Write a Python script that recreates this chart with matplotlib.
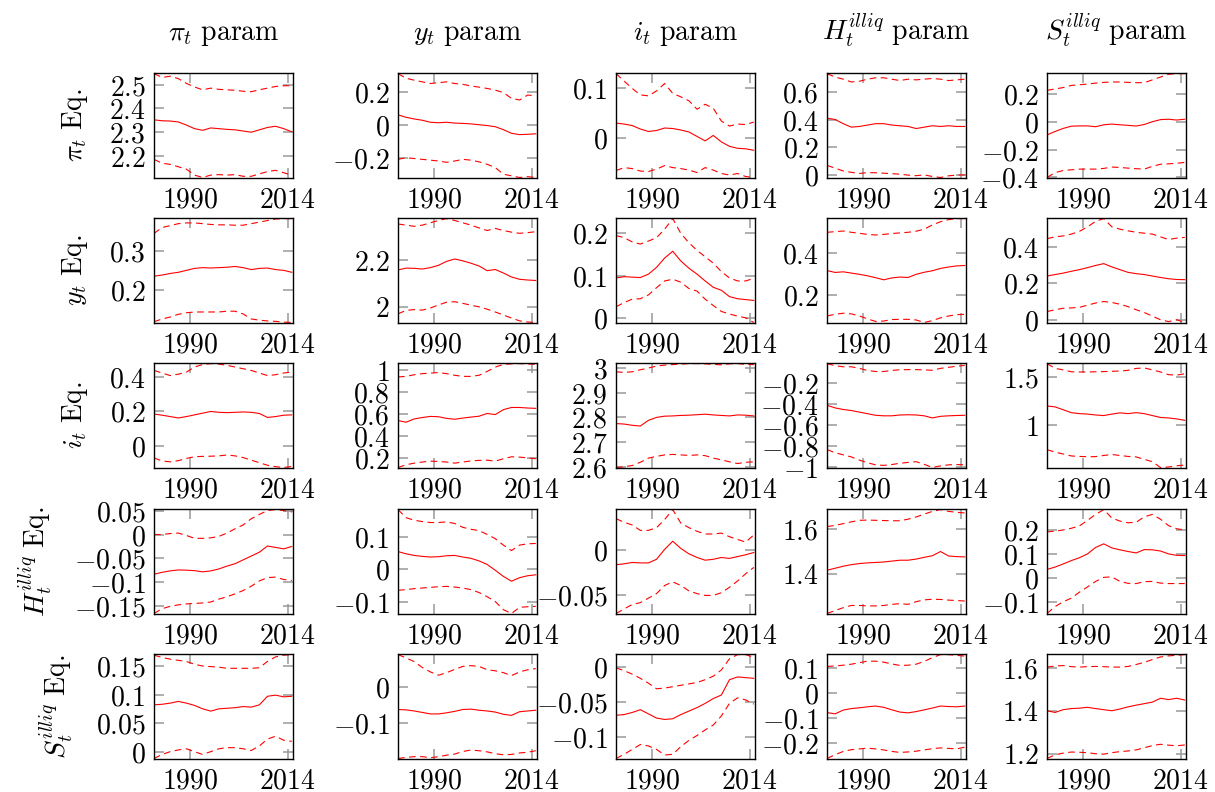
import matplotlib
matplotlib.use('Agg')
import matplotlib.pyplot as plt

plt.rcParams['mathtext.fontset'] = 'cm'
plt.rcParams['font.family'] = 'serif'
plt.rcParams['font.serif'] = ['DejaVu Serif']

# x axis: estimation end dates (every second year)
years = list(range(1981, 2016, 2))

col_names = [r'$\pi_t\ \mathrm{param}$', r'$y_t\ \mathrm{param}$', r'$i_t\ \mathrm{param}$',
             r'$H_t^{illiq}\ \mathrm{param}$', r'$S_t^{illiq}\ \mathrm{param}$']
row_names = [r'$\pi_t\ \mathrm{Eq.}$', r'$y_t\ \mathrm{Eq.}$', r'$i_t\ \mathrm{Eq.}$',
             r'$H_t^{illiq}\ \mathrm{Eq.}$', r'$S_t^{illiq}\ \mathrm{Eq.}$']
x_ticks = [1990, 2014]

# ---- pi_t equation ----
pi_pi_mid = [2.352, 2.348, 2.347, 2.343, 2.33, 2.315, 2.308, 2.318, 2.315, 2.312, 2.31, 2.305, 2.300, 2.31, 2.32, 2.325, 2.315, 2.302]
pi_pi_hi = [2.546, 2.53, 2.535, 2.525, 2.505, 2.49, 2.478, 2.485, 2.48, 2.478, 2.476, 2.472, 2.47, 2.478, 2.485, 2.492, 2.495, 2.495]
pi_pi_lo = [2.186, 2.17, 2.165, 2.155, 2.145, 2.12, 2.11, 2.12, 2.122, 2.12, 2.122, 2.115, 2.115, 2.125, 2.135, 2.14, 2.13, 2.12]

pi_y_mid = [0.06, 0.045, 0.035, 0.027, 0.015, 0.012, 0.015, 0.01, 0.008, 0.005, 0.0, -0.005, -0.012, -0.03, -0.052, -0.06, -0.058, -0.055]
pi_y_hi = [0.31, 0.282, 0.27, 0.26, 0.25, 0.255, 0.26, 0.25, 0.245, 0.235, 0.228, 0.22, 0.21, 0.195, 0.16, 0.15, 0.18, 0.175]
pi_y_lo = [-0.21, -0.2, -0.205, -0.21, -0.215, -0.22, -0.228, -0.22, -0.21, -0.215, -0.225, -0.24, -0.26, -0.3, -0.31, -0.32, -0.315, -0.32]

pi_i_mid = [0.030, 0.028, 0.025, 0.018, 0.013, 0.015, 0.02, 0.019, 0.016, 0.012, 0.003, -0.006, 0.005, -0.008, -0.017, -0.021, -0.022, -0.025]
pi_i_hi = [0.13, 0.115, 0.1, 0.087, 0.085, 0.095, 0.11, 0.09, 0.083, 0.075, 0.058, 0.068, 0.06, 0.034, 0.024, 0.028, 0.027, 0.032]
pi_i_lo = [-0.066, -0.06, -0.062, -0.067, -0.068, -0.063, -0.056, -0.06, -0.062, -0.065, -0.07, -0.06, -0.065, -0.072, -0.075, -0.072, -0.078, -0.08]

pi_h_mid = [0.41, 0.40, 0.37, 0.345, 0.35, 0.36, 0.37, 0.37, 0.36, 0.355, 0.35, 0.335, 0.345, 0.355, 0.35, 0.355, 0.35, 0.35]
pi_h_hi = [0.73, 0.705, 0.69, 0.67, 0.675, 0.69, 0.70, 0.70, 0.69, 0.68, 0.69, 0.685, 0.69, 0.695, 0.69, 0.68, 0.685, 0.69]
pi_h_lo = [0.07, 0.05, 0.03, 0.02, 0.012, 0.018, 0.017, 0.014, 0.01, 0.007, 0.0, -0.004, 0.002, -0.01, -0.017, -0.005, 0.0, 0.002]

pi_s_mid = [-0.095, -0.07, -0.048, -0.032, -0.03, -0.03, -0.036, -0.022, -0.017, -0.022, -0.026, -0.031, -0.02, 0.0, 0.015, 0.018, 0.012, 0.018]
pi_s_hi = [0.225, 0.235, 0.245, 0.26, 0.265, 0.27, 0.277, 0.282, 0.285, 0.285, 0.282, 0.28, 0.28, 0.3, 0.32, 0.34, 0.345, 0.345]
pi_s_lo = [-0.4, -0.365, -0.35, -0.345, -0.34, -0.34, -0.34, -0.335, -0.325, -0.328, -0.333, -0.337, -0.34, -0.32, -0.305, -0.302, -0.298, -0.292]

# ---- y_t equation ----
y_pi_mid = [0.235, 0.238, 0.242, 0.245, 0.25, 0.255, 0.257, 0.256, 0.257, 0.258, 0.26, 0.257, 0.252, 0.255, 0.256, 0.252, 0.25, 0.245]
y_pi_hi = [0.345, 0.36, 0.365, 0.37, 0.372, 0.372, 0.37, 0.368, 0.367, 0.367, 0.366, 0.366, 0.37, 0.374, 0.378, 0.382, 0.383, 0.383]
y_pi_lo = [0.118, 0.125, 0.13, 0.137, 0.141, 0.143, 0.143, 0.143, 0.143, 0.145, 0.145, 0.138, 0.125, 0.122, 0.12, 0.119, 0.117, 0.116]

y_y_mid = [2.158, 2.166, 2.165, 2.162, 2.168, 2.178, 2.195, 2.205, 2.197, 2.187, 2.175, 2.155, 2.16, 2.145, 2.128, 2.118, 2.115, 2.113]
y_y_hi = [2.355, 2.35, 2.345, 2.35, 2.36, 2.37, 2.378, 2.37, 2.36, 2.35, 2.338, 2.327, 2.336, 2.327, 2.32, 2.315, 2.318, 2.322]
y_y_lo = [1.97, 1.985, 1.988, 1.986, 1.995, 2.008, 2.02, 2.022, 2.015, 2.007, 2.0, 1.99, 1.978, 1.965, 1.952, 1.94, 1.935, 1.933]

y_i_mid = [0.095, 0.098, 0.097, 0.096, 0.104, 0.12, 0.142, 0.158, 0.135, 0.118, 0.104, 0.088, 0.073, 0.066, 0.051, 0.046, 0.044, 0.042]
y_i_hi = [0.195, 0.19, 0.18, 0.175, 0.182, 0.19, 0.21, 0.235, 0.2, 0.178, 0.16, 0.145, 0.13, 0.11, 0.095, 0.088, 0.088, 0.094]
y_i_lo = [0.027, 0.037, 0.045, 0.046, 0.055, 0.072, 0.088, 0.092, 0.085, 0.07, 0.064, 0.045, 0.03, 0.016, 0.01, 0.005, 0.001, -0.01]

y_h_mid = [0.318, 0.309, 0.312, 0.306, 0.3, 0.293, 0.284, 0.274, 0.283, 0.287, 0.285, 0.3, 0.31, 0.317, 0.328, 0.335, 0.34, 0.342]
y_h_hi = [0.5, 0.503, 0.506, 0.5, 0.495, 0.49, 0.487, 0.49, 0.494, 0.497, 0.5, 0.505, 0.515, 0.535, 0.55, 0.56, 0.565, 0.565]
y_h_lo = [0.102, 0.11, 0.115, 0.112, 0.102, 0.088, 0.076, 0.078, 0.085, 0.086, 0.086, 0.083, 0.071, 0.08, 0.093, 0.102, 0.108, 0.11]

y_s_mid = [0.24, 0.248, 0.256, 0.266, 0.275, 0.286, 0.298, 0.308, 0.29, 0.275, 0.26, 0.253, 0.248, 0.24, 0.232, 0.225, 0.221, 0.22]
y_s_hi = [0.445, 0.455, 0.46, 0.47, 0.485, 0.51, 0.54, 0.555, 0.51, 0.497, 0.488, 0.48, 0.475, 0.47, 0.455, 0.44, 0.448, 0.452]
y_s_lo = [0.045, 0.055, 0.063, 0.065, 0.068, 0.08, 0.092, 0.1, 0.095, 0.085, 0.072, 0.055, 0.04, 0.02, 0.0, -0.01, 0.0, -0.015]

# ---- i_t equation ----
i_pi_mid = [0.185, 0.178, 0.17, 0.162, 0.17, 0.18, 0.19, 0.2, 0.195, 0.193, 0.195, 0.197, 0.195, 0.188, 0.165, 0.17, 0.178, 0.18]
i_pi_hi = [0.44, 0.425, 0.41, 0.418, 0.43, 0.46, 0.475, 0.48, 0.477, 0.47, 0.46, 0.45, 0.44, 0.425, 0.41, 0.415, 0.425, 0.43]
i_pi_lo = [-0.072, -0.09, -0.095, -0.088, -0.075, -0.065, -0.063, -0.062, -0.06, -0.055, -0.06, -0.07, -0.085, -0.1, -0.115, -0.123, -0.128, -0.122]

i_y_mid = [0.54, 0.525, 0.555, 0.568, 0.578, 0.575, 0.56, 0.552, 0.563, 0.572, 0.58, 0.605, 0.595, 0.64, 0.66, 0.66, 0.655, 0.652]
i_y_hi = [0.94, 0.945, 0.96, 0.97, 0.975, 0.98, 0.97, 0.955, 0.945, 0.945, 0.955, 0.99, 1.03, 1.055, 1.06, 1.062, 1.058, 1.056]
i_y_lo = [0.11, 0.135, 0.15, 0.16, 0.168, 0.165, 0.16, 0.15, 0.16, 0.17, 0.175, 0.177, 0.168, 0.19, 0.208, 0.205, 0.198, 0.19]

i_i_mid = [2.775, 2.773, 2.768, 2.765, 2.788, 2.8, 2.805, 2.806, 2.808, 2.809, 2.811, 2.813, 2.81, 2.808, 2.806, 2.81, 2.809, 2.806]
i_i_hi = [2.985, 2.982, 2.985, 2.993, 3.0, 3.008, 3.012, 3.014, 3.016, 3.018, 3.018, 3.017, 3.015, 3.013, 3.017, 3.018, 3.015, 3.014]
i_i_lo = [2.597, 2.6, 2.605, 2.618, 2.635, 2.642, 2.648, 2.65, 2.648, 2.646, 2.648, 2.645, 2.635, 2.628, 2.62, 2.613, 2.618, 2.62]

i_h_mid = [-0.41, -0.435, -0.45, -0.46, -0.475, -0.49, -0.505, -0.51, -0.51, -0.502, -0.5, -0.502, -0.51, -0.53, -0.515, -0.51, -0.507, -0.505]
i_h_hi = [-0.015, -0.035, -0.045, -0.045, -0.06, -0.08, -0.09, -0.09, -0.08, -0.073, -0.072, -0.072, -0.075, -0.078, -0.06, -0.05, -0.04, -0.032]
i_h_lo = [-0.83, -0.86, -0.88, -0.9, -0.93, -0.955, -0.975, -0.98, -0.972, -0.96, -0.952, -0.945, -0.97, -1.0, -0.985, -0.975, -0.972, -0.975]

i_s_mid = [1.2, 1.19, 1.16, 1.13, 1.12, 1.115, 1.106, 1.1, 1.115, 1.128, 1.12, 1.13, 1.12, 1.1, 1.08, 1.075, 1.065, 1.05]
i_s_hi = [1.64, 1.59, 1.575, 1.555, 1.553, 1.553, 1.555, 1.557, 1.56, 1.563, 1.57, 1.59, 1.595, 1.575, 1.553, 1.525, 1.52, 1.535]
i_s_lo = [0.745, 0.72, 0.7, 0.68, 0.675, 0.672, 0.673, 0.685, 0.695, 0.685, 0.675, 0.67, 0.645, 0.62, 0.56, 0.565, 0.578, 0.585]

# ---- H_t^illiq equation ----
h_pi_mid = [-0.083, -0.079, -0.076, -0.074, -0.0745, -0.0755, -0.078, -0.076, -0.072, -0.066, -0.061, -0.053, -0.045, -0.037, -0.024, -0.027, -0.03, -0.025]
h_pi_hi = [0.0, 0.0, 0.002, 0.003, -0.002, -0.008, -0.008, -0.007, -0.004, 0.003, 0.012, 0.02, 0.033, 0.042, 0.05, 0.052, 0.05, 0.047]
h_pi_lo = [-0.165, -0.155, -0.15, -0.147, -0.145, -0.144, -0.143, -0.141, -0.135, -0.13, -0.124, -0.117, -0.108, -0.097, -0.09, -0.089, -0.094, -0.096]

h_y_mid = [0.055, 0.048, 0.043, 0.04, 0.038, 0.039, 0.042, 0.043, 0.038, 0.034, 0.026, 0.015, -0.003, -0.022, -0.037, -0.026, -0.02, -0.017]
h_y_hi = [0.185, 0.16, 0.152, 0.148, 0.145, 0.145, 0.147, 0.142, 0.13, 0.124, 0.12, 0.108, 0.095, 0.075, 0.058, 0.075, 0.079, 0.08]
h_y_lo = [-0.065, -0.063, -0.06, -0.058, -0.056, -0.054, -0.053, -0.055, -0.058, -0.063, -0.072, -0.085, -0.1, -0.125, -0.137, -0.118, -0.116, -0.115]

h_i_mid = [-0.016, -0.015, -0.0135, -0.014, -0.014, -0.01, 0.001, 0.01, 0.002, -0.004, -0.008, -0.011, -0.01, -0.008, -0.009, -0.007, -0.005, -0.0025]
h_i_hi = [0.035, 0.031, 0.028, 0.022, 0.022, 0.025, 0.034, 0.045, 0.03, 0.025, 0.021, 0.018, 0.018, 0.019, 0.015, 0.012, 0.009, 0.017]
h_i_lo = [-0.07, -0.065, -0.06, -0.058, -0.053, -0.048, -0.039, -0.035, -0.039, -0.045, -0.048, -0.05, -0.05, -0.047, -0.041, -0.034, -0.026, -0.019]

h_h_mid = [1.416, 1.425, 1.434, 1.441, 1.446, 1.449, 1.451, 1.453, 1.457, 1.461, 1.461, 1.466, 1.474, 1.481, 1.5, 1.48, 1.477, 1.476]
h_h_hi = [1.612, 1.617, 1.625, 1.633, 1.64, 1.641, 1.64, 1.639, 1.638, 1.638, 1.645, 1.655, 1.668, 1.68, 1.688, 1.68, 1.676, 1.673]
h_h_lo = [1.222, 1.235, 1.248, 1.258, 1.258, 1.256, 1.256, 1.258, 1.263, 1.266, 1.263, 1.275, 1.283, 1.286, 1.285, 1.282, 1.28, 1.278]

h_s_mid = [0.035, 0.045, 0.058, 0.072, 0.084, 0.1, 0.127, 0.142, 0.125, 0.117, 0.11, 0.104, 0.118, 0.117, 0.112, 0.1, 0.094, 0.093]
h_s_hi = [0.192, 0.195, 0.2, 0.207, 0.217, 0.24, 0.265, 0.285, 0.25, 0.237, 0.23, 0.232, 0.255, 0.265, 0.245, 0.218, 0.205, 0.2]
h_s_lo = [-0.149, -0.12, -0.1, -0.085, -0.06, -0.038, -0.015, 0.002, 0.004, -0.015, -0.023, -0.024, -0.016, -0.015, -0.022, -0.024, -0.024, -0.024]

# ---- S_t^illiq equation ----
s_pi_mid = [0.082, 0.083, 0.085, 0.088, 0.085, 0.081, 0.075, 0.071, 0.075, 0.076, 0.077, 0.079, 0.078, 0.082, 0.097, 0.099, 0.096, 0.097]
s_pi_hi = [0.169, 0.165, 0.162, 0.16, 0.158, 0.153, 0.15, 0.149, 0.148, 0.146, 0.146, 0.146, 0.146, 0.147, 0.158, 0.166, 0.169, 0.17]
s_pi_lo = [-0.012, -0.005, 0.0, 0.003, 0.005, 0.0, -0.005, 0.0, 0.005, 0.007, 0.007, 0.005, 0.002, 0.01, 0.022, 0.027, 0.02, 0.018]

s_y_mid = [-0.062, -0.063, -0.066, -0.07, -0.074, -0.074, -0.071, -0.067, -0.062, -0.061, -0.064, -0.066, -0.069, -0.075, -0.078, -0.068, -0.066, -0.064]
s_y_hi = [0.087, 0.078, 0.068, 0.052, 0.04, 0.031, 0.038, 0.047, 0.055, 0.057, 0.055, 0.046, 0.043, 0.038, 0.03, 0.04, 0.046, 0.049]
s_y_lo = [-0.195, -0.192, -0.19, -0.19, -0.193, -0.19, -0.186, -0.183, -0.176, -0.172, -0.174, -0.177, -0.182, -0.185, -0.184, -0.18, -0.178, -0.174]

s_i_mid = [-0.069, -0.068, -0.065, -0.061, -0.067, -0.073, -0.075, -0.074, -0.068, -0.063, -0.058, -0.052, -0.045, -0.04, -0.018, -0.014, -0.015, -0.016]
s_i_hi = [-0.001, -0.005, -0.01, -0.016, -0.023, -0.031, -0.03, -0.028, -0.026, -0.024, -0.022, -0.018, -0.013, -0.004, 0.012, 0.018, 0.018, 0.014]
s_i_lo = [-0.131, -0.125, -0.118, -0.111, -0.113, -0.118, -0.126, -0.125, -0.114, -0.105, -0.098, -0.09, -0.083, -0.07, -0.052, -0.044, -0.047, -0.053]

s_h_mid = [-0.078, -0.083, -0.068, -0.062, -0.059, -0.055, -0.052, -0.057, -0.067, -0.076, -0.079, -0.074, -0.067, -0.06, -0.052, -0.054, -0.055, -0.052]
s_h_hi = [0.105, 0.107, 0.11, 0.114, 0.12, 0.126, 0.126, 0.122, 0.115, 0.109, 0.11, 0.114, 0.125, 0.14, 0.152, 0.152, 0.149, 0.146]
s_h_lo = [-0.26, -0.245, -0.232, -0.225, -0.222, -0.219, -0.222, -0.226, -0.232, -0.236, -0.234, -0.231, -0.226, -0.221, -0.218, -0.22, -0.222, -0.215]

s_s_mid = [1.4, 1.392, 1.405, 1.41, 1.412, 1.416, 1.41, 1.405, 1.4, 1.408, 1.418, 1.426, 1.433, 1.44, 1.458, 1.452, 1.458, 1.45]
s_s_hi = [1.603, 1.608, 1.61, 1.605, 1.603, 1.605, 1.606, 1.605, 1.603, 1.603, 1.606, 1.615, 1.625, 1.638, 1.65, 1.655, 1.658, 1.661]
s_s_lo = [1.178, 1.195, 1.203, 1.208, 1.207, 1.205, 1.2, 1.198, 1.205, 1.21, 1.213, 1.218, 1.228, 1.238, 1.244, 1.24, 1.237, 1.241]

grid = [
    [(pi_pi_mid, pi_pi_hi, pi_pi_lo), (pi_y_mid, pi_y_hi, pi_y_lo), (pi_i_mid, pi_i_hi, pi_i_lo),
     (pi_h_mid, pi_h_hi, pi_h_lo), (pi_s_mid, pi_s_hi, pi_s_lo)],
    [(y_pi_mid, y_pi_hi, y_pi_lo), (y_y_mid, y_y_hi, y_y_lo), (y_i_mid, y_i_hi, y_i_lo),
     (y_h_mid, y_h_hi, y_h_lo), (y_s_mid, y_s_hi, y_s_lo)],
    [(i_pi_mid, i_pi_hi, i_pi_lo), (i_y_mid, i_y_hi, i_y_lo), (i_i_mid, i_i_hi, i_i_lo),
     (i_h_mid, i_h_hi, i_h_lo), (i_s_mid, i_s_hi, i_s_lo)],
    [(h_pi_mid, h_pi_hi, h_pi_lo), (h_y_mid, h_y_hi, h_y_lo), (h_i_mid, h_i_hi, h_i_lo),
     (h_h_mid, h_h_hi, h_h_lo), (h_s_mid, h_s_hi, h_s_lo)],
    [(s_pi_mid, s_pi_hi, s_pi_lo), (s_y_mid, s_y_hi, s_y_lo), (s_i_mid, s_i_hi, s_i_lo),
     (s_h_mid, s_h_hi, s_h_lo), (s_s_mid, s_s_hi, s_s_lo)],
]

# y ticks of each panel
yticks = [
    [[2.2, 2.3, 2.4, 2.5], [-0.2, 0, 0.2], [0, 0.1], [0, 0.2, 0.4, 0.6], [-0.4, -0.2, 0, 0.2]],
    [[0.2, 0.3], [2, 2.2], [0, 0.1, 0.2], [0.2, 0.4], [0, 0.2, 0.4]],
    [[0, 0.2, 0.4], [0.2, 0.4, 0.6, 0.8, 1], [2.6, 2.7, 2.8, 2.9, 3], [-1, -0.8, -0.6, -0.4, -0.2], [1, 1.5]],
    [[-0.15, -0.1, -0.05, 0, 0.05], [-0.1, 0, 0.1], [-0.05, 0], [1.4, 1.6], [-0.1, 0, 0.1, 0.2]],
    [[0, 0.05, 0.1, 0.15], [-0.1, 0], [-0.1, -0.05, 0], [-0.2, -0.1, 0, 0.1], [1.2, 1.4, 1.6]],
]

W, H = 1215, 792
fig = plt.figure(figsize=(W / 100, H / 100), dpi=100)
lefts = [154, 398, 616, 827, 1047]
tops = [73.3, 218.3, 363.3, 509.3, 654.3]
aw, ah = 139, 104.5

for r in range(5):
    for c in range(5):
        ax = fig.add_axes([lefts[c] / W, 1 - (tops[r] + ah) / H, aw / W, ah / H])
        mid, hi, lo = grid[r][c]
        ax.plot(years, mid, color='red', lw=0.8)
        ax.plot(years, hi, color='red', lw=0.8, ls=(0, (6, 4)))
        ax.plot(years, lo, color='red', lw=0.8, ls=(0, (6, 4)))
        lo_min = min(lo)
        hi_max = max(hi)
        ax.set_ylim(lo_min - 0.003 * (hi_max - lo_min), hi_max + 0.003 * (hi_max - lo_min))
        ax.set_xlim(1981, 2015.3)
        ax.set_xticks(x_ticks)
        ax.set_xticklabels([f'${v}$' for v in x_ticks])
        ax.set_yticks(yticks[r][c])
        ax.set_yticklabels([f'${v:g}$' for v in yticks[r][c]])
        ax.tick_params(direction='in', top=True, right=True, length=7, width=1.1,
                       color='0.6', labelsize=20, pad=6)
        for s in ax.spines.values():
            s.set_linewidth(1.0)
        if r == 0:
            ax.set_title(col_names[c], fontsize=20, pad=24)
        if c == 0:
            ax.set_ylabel(row_names[r], fontsize=20, labelpad=14)

fig.savefig('out.png', dpi=100)
